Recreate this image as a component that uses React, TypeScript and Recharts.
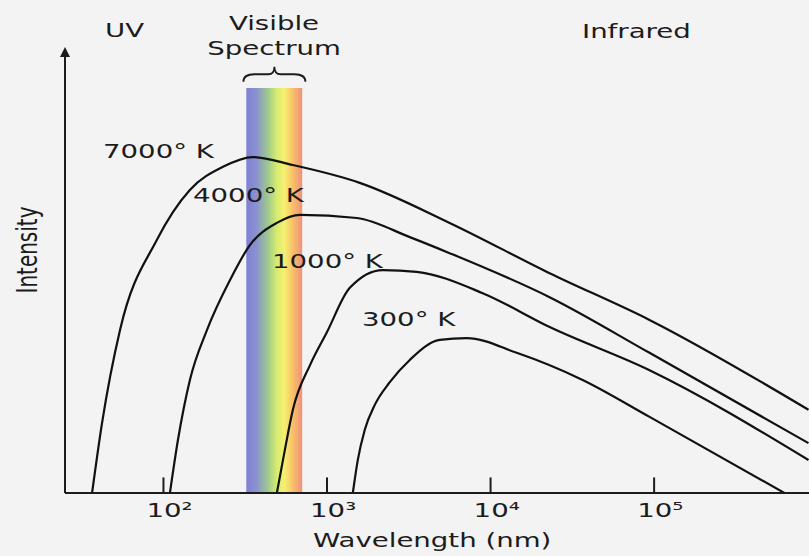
import React from "react";
import { LineChart, Line, XAxis, YAxis, ReferenceArea, ReferenceLine, ReferenceDot } from "recharts";

// wavelength in nm (log axis), intensity in arbitrary units (0-100)
const wl7000 = [36.6, 42.1, 54.2, 91.2, 145, 231, 352, 618, 1585, 5620, 22960, 93700, 879000];
const int7000 = [0, 15.7, 36.6, 56.9, 68.1, 73.3, 75.5, 73.7, 69.7, 60.7, 49.4, 38.9, 18.7];

const wl4000 = [109.5, 122.6, 145.1, 184.4, 254.7, 337.6, 493.5, 682.2, 1521, 3206, 5620, 22960, 93700, 879000];
const int4000 = [0, 11.9, 25.4, 36.6, 47.8, 55.7, 60.7, 62.5, 61.8, 57.5, 53.9, 44.0, 31.5, 11.2];

const wl1000 = [493.5, 552.4, 618.3, 788.6, 994.5, 1378, 2192, 3538, 8951, 22980, 93800, 879000];
const int1000 = [0, 9.7, 18.7, 28.8, 36.0, 46.1, 50.1, 49.7, 44.9, 37.3, 27.6, 7.4];

const wl300 = [1438, 1542, 1702, 1959, 2420, 3206, 4890, 7145, 14440, 36540, 93800, 627000];
const int300 = [0, 7.4, 14.2, 19.8, 24.9, 29.9, 34.4, 34.8, 31.5, 25.4, 17.1, 0];

const tickValues = [100, 1000, 10000, 100000];
const tickLabels = ["10²", "10³", "10⁴", "10⁵"];

// visible band (nm)
const visibleBand = [321, 705];

const toRows = (xs: number[], ys: number[]) => xs.map((w, i) => ({ wl: w, i: ys[i] }));

const SX = 1.38; // the source picture is stretched horizontally
const INK = "#1c1c1c";

function StretchText({ x, y, children, anchor = "start" }: any) {
  return (
    <text
      transform={`translate(${x} ${y}) scale(${SX} 1)`}
      textAnchor={anchor}
      fontFamily="DejaVu Sans"
      fontSize={20}
      fill={INK}
    >
      {children}
    </text>
  );
}

function TickLabel({ x, payload }: any) {
  const idx = tickValues.indexOf(payload.value);
  return <StretchText x={x - 17} y={517}>{tickLabels[idx]}</StretchText>;
}

function Brace({ x, y, width, height }: any) {
  const m = y + height * 0.5;
  const d = `M${x},${y + height} Q${x},${m} ${x + width * 0.18},${m} L${x + width * 0.4},${m} Q${x + width * 0.5},${m} ${x + width * 0.5},${y} Q${x + width * 0.5},${m} ${x + width * 0.6},${m} L${x + width * 0.82},${m} Q${x + width},${m} ${x + width},${y + height}`;
  return <path d={d} fill="none" stroke={INK} strokeWidth={1.8} />;
}

function Arrow({ cx, cy }: any) {
  return <path d={`M${cx - 5},${cy + 9} L${cx},${cy - 1} L${cx + 5},${cy + 9} Z`} fill={INK} />;
}

const curves = [
  { key: "7000", rows: toRows(wl7000, int7000) },
  { key: "4000", rows: toRows(wl4000, int4000) },
  { key: "1000", rows: toRows(wl1000, int1000) },
  { key: "300", rows: toRows(wl300, int300) },
];

export default function App() {
  return (
    <div style={{ position: "fixed", left: 0, top: 0, width: 809, height: 556, background: "#f3f3f3" }}>
      <LineChart width={809} height={556} margin={{ top: 48, right: 0, left: 65, bottom: 23 }}>
        <defs>
          <linearGradient id="rainbow" x1="0" y1="0" x2="1" y2="0">
            <stop offset="0%" stopColor="#7f7fd6" />
            <stop offset="18%" stopColor="#8a92d0" />
            <stop offset="38%" stopColor="#9cc88e" />
            <stop offset="55%" stopColor="#d8ec70" />
            <stop offset="68%" stopColor="#f6f070" />
            <stop offset="82%" stopColor="#f8c468" />
            <stop offset="100%" stopColor="#f0907a" />
          </linearGradient>
        </defs>
        <XAxis
          dataKey="wl"
          type="number"
          scale="log"
          domain={[25, 885000]}
          allowDataOverflow
          ticks={tickValues}
          tickLine={false}
          tick={<TickLabel />}
          height={40}
          axisLine={{ stroke: INK, strokeWidth: 2 }}
        />
        <YAxis
          type="number"
          domain={[0, 100]}
          allowDataOverflow
          width={0}
          tick={false}
          tickLine={false}
          axisLine={false}
        />
        <ReferenceArea
          x1={visibleBand[0]}
          x2={visibleBand[1]}
          y1={0}
          y2={91}
          fill="url(#rainbow)"
          fillOpacity={1}
          stroke="none"
          ifOverflow="visible"
        />
        <ReferenceArea
          x1={308}
          x2={738}
          y1={92.4}
          y2={95.8}
          ifOverflow="visible"
          shape={<Brace />}
        />
        <ReferenceLine
          segment={[{ x: 25, y: 0 }, { x: 25, y: 99 }]}
          stroke={INK}
          strokeWidth={2}
          ifOverflow="visible"
        />
        {tickValues.map((t) => (
          <ReferenceLine
            key={t}
            segment={[{ x: t, y: 0 }, { x: t, y: 3.5 }]}
            stroke={INK}
            strokeWidth={2}
            ifOverflow="visible"
          />
        ))}
        <ReferenceDot x={25} y={100} r={0} ifOverflow="visible" shape={<Arrow />} />
        {curves.map((c) => (
          <Line
            key={c.key}
            data={c.rows}
            dataKey="i"
            type="monotone"
            stroke="#111"
            strokeWidth={2.2}
            dot={false}
            activeDot={false}
            isAnimationActive={false}
          />
        ))}
      </LineChart>
      <svg
        width={809}
        height={556}
        style={{ position: "absolute", left: 0, top: 0, pointerEvents: "none" }}
      >
        <StretchText x={105} y={37}>UV</StretchText>
        <StretchText x={274} y={30} anchor="middle">Visible</StretchText>
        <StretchText x={274} y={55} anchor="middle">Spectrum</StretchText>
        <StretchText x={582} y={38}>Infrared</StretchText>
        <StretchText x={103} y={158}>7000° K</StretchText>
        <StretchText x={193} y={202}>4000° K</StretchText>
        <StretchText x={272} y={268}>1000° K</StretchText>
        <StretchText x={362} y={326}>300° K</StretchText>
        <StretchText x={313} y={547}>Wavelength (nm)</StretchText>
        <text
          transform={`translate(37 250) scale(${SX} 1) rotate(-90)`}
          textAnchor="middle"
          fontFamily="DejaVu Sans"
          fontSize={20}
          fill={INK}
        >
          Intensity
        </text>
      </svg>
    </div>
  );
}
